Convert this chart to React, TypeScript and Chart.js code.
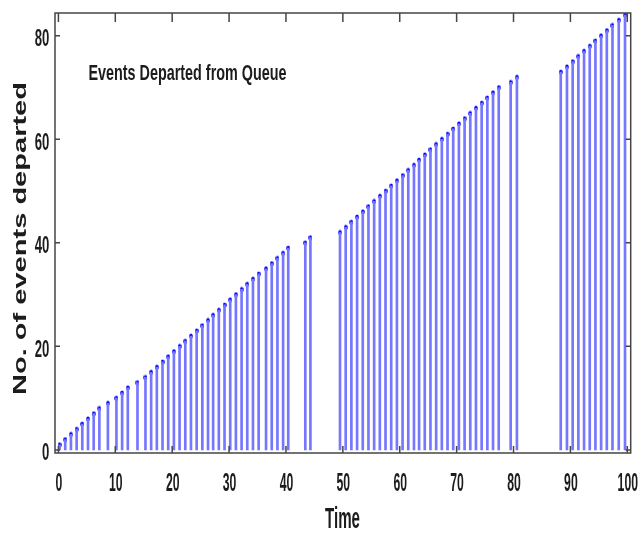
import React, { useEffect, useRef } from 'react';
import { Chart, registerables } from 'chart.js';

Chart.register(...registerables);

const departureTimes = [
  0.2, 1.2, 2.2, 3.2, 4.2, 5.2, 6.2, 7.2, 8.7, 10.2,
  11.2, 12.2, 13.9, 15.3, 16.3, 17.3, 18.3, 19.3, 20.3, 21.3,
  22.3, 23.3, 24.3, 25.3, 26.3, 27.2, 28.2, 29.2, 30.2, 31.2,
  32.2, 33.2, 34.2, 35.2, 36.5, 37.5, 38.5, 39.5, 40.4, 43.4,
  44.3, 49.5, 50.5, 51.5, 52.5, 53.5, 54.5, 55.5, 56.5, 57.5,
  58.5, 59.5, 60.5, 61.5, 62.5, 63.4, 64.4, 65.4, 66.4, 67.4,
  68.4, 69.4, 70.4, 71.4, 72.4, 73.4, 74.4, 75.4, 76.4, 77.4,
  79.5, 80.6, 88.3, 89.4, 90.4, 91.4, 92.4, 93.4, 94.4, 95.4,
  96.4, 97.4, 98.5, 99.6,
];

const eventsDeparted = [
  1, 2, 3, 4, 5, 6, 7, 8, 9, 10,
  11, 12, 13, 14, 15, 16, 17, 18, 19, 20,
  21, 22, 23, 24, 25, 26, 27, 28, 29, 30,
  31, 32, 33, 34, 35, 36, 37, 38, 39, 40,
  41, 42, 43, 44, 45, 46, 47, 48, 49, 50,
  51, 52, 53, 54, 55, 56, 57, 58, 59, 60,
  61, 62, 63, 64, 65, 66, 67, 68, 69, 70,
  71, 72, 73, 74, 75, 76, 77, 78, 79, 80,
  81, 82, 83, 84,
];

const xTickValues = [0, 10, 20, 30, 40, 50, 60, 70, 80, 90, 100];
const yTickValues = [0, 20, 40, 60, 80];

const titleText = 'Events Departed from Queue';
const xAxisLabel = 'Time';
const yAxisLabel = 'No. of events departed';

const FONT_FAMILY = '"Liberation Sans", Arial, Helvetica, sans-serif';

function fitText(
  ctx: CanvasRenderingContext2D,
  text: string,
  cx: number,
  cy: number,
  w: number,
  h: number,
  rotate = 0
) {
  const size = 40;
  ctx.font = `bold ${size}px ${FONT_FAMILY}`;
  const m = ctx.measureText(text).width;
  const cap = 0.716 * size;
  ctx.save();
  ctx.translate(cx, cy);
  if (rotate) ctx.rotate(rotate);
  ctx.scale(w / m, h / cap);
  ctx.textAlign = 'center';
  ctx.textBaseline = 'alphabetic';
  ctx.fillText(text, 0, cap / 2);
  ctx.restore();
}

function makeDot(): HTMLCanvasElement {
  const c = document.createElement('canvas');
  c.width = 4;
  c.height = 6;
  const g = c.getContext('2d');
  if (g) {
    g.fillStyle = '#0000ff';
    g.beginPath();
    g.ellipse(2, 3, 1.8, 2.6, 0, 0, Math.PI * 2);
    g.fill();
  }
  return c;
}

const framePlugin = {
  id: 'matlabFrame',
  afterDraw(chart: any) {
    const { ctx, chartArea: a, scales } = chart;
    const x = scales.x;
    const y = scales.y;
    ctx.save();
    ctx.strokeStyle = '#454545';
    ctx.lineWidth = 1.5;
    ctx.strokeRect(a.left, a.top, a.right - a.left, a.bottom - a.top);
    ctx.beginPath();
    xTickValues.forEach((v) => {
      const px = x.getPixelForValue(v);
      ctx.moveTo(px, a.bottom);
      ctx.lineTo(px, a.bottom - 7);
      ctx.moveTo(px, a.top);
      ctx.lineTo(px, a.top + 9);
    });
    yTickValues.forEach((v) => {
      const py = y.getPixelForValue(v);
      ctx.moveTo(a.left, py);
      ctx.lineTo(a.left + 5, py);
      ctx.moveTo(a.right, py);
      ctx.lineTo(a.right - 5, py);
    });
    ctx.stroke();

    ctx.fillStyle = '#1c1c1c';
    xTickValues.forEach((v) => {
      const s = String(v);
      fitText(ctx, s, x.getPixelForValue(v) + 0.5, 482, 6.8 * s.length, 18);
    });
    yTickValues.forEach((v) => {
      const s = String(v);
      const w = 7.3 * s.length;
      fitText(ctx, s, 49.3 - w / 2, y.getPixelForValue(v) + 2, w, 16.5);
    });
    fitText(ctx, titleText, 187.5, 72, 198, 16);
    fitText(ctx, xAxisLabel, 342.5, 518, 35, 20.6);
    fitText(ctx, yAxisLabel, 19.7, 238.5, 313, 12.5, -Math.PI / 2);
    ctx.restore();
  },
};

export default function App() {
  const canvasRef = useRef<HTMLCanvasElement | null>(null);

  useEffect(() => {
    if (!canvasRef.current) return;
    const points = departureTimes.map((t, i) => ({ x: t, y: eventsDeparted[i] }));
    const dot = makeDot();
    const chart = new Chart(canvasRef.current, {
      type: 'bar',
      data: {
        datasets: [
          {
            type: 'bar',
            data: points,
            backgroundColor: 'rgb(118,118,255)',
            borderWidth: 0,
            barThickness: 2,
            grouped: false,
          } as any,
          {
            type: 'line',
            data: points,
            showLine: false,
            pointStyle: dot,
            pointRadius: 3,
            pointBackgroundColor: '#0000ff',
            pointBorderWidth: 0,
            pointBorderColor: '#0000ff',
          } as any,
        ],
      },
      options: {
        responsive: false,
        animation: false,
        devicePixelRatio: 1,
        layout: { padding: { left: 55, top: 13, right: 8.3, bottom: 81 } },
        plugins: {
          legend: { display: false },
          tooltip: { enabled: false },
          title: { display: false },
        },
        scales: {
          x: { type: 'linear', min: -0.6, max: 100.6, display: false, offset: false },
          y: { type: 'linear', min: -0.6, max: 84.4, display: false },
        },
      } as any,
      plugins: [framePlugin],
    });
    return () => chart.destroy();
  }, []);

  return (
    <div style={{ position: 'absolute', left: 0, top: 0, width: 639, height: 534, background: '#fff' }}>
      <canvas ref={canvasRef} width={639} height={534} style={{ display: 'block' }} />
    </div>
  );
}
